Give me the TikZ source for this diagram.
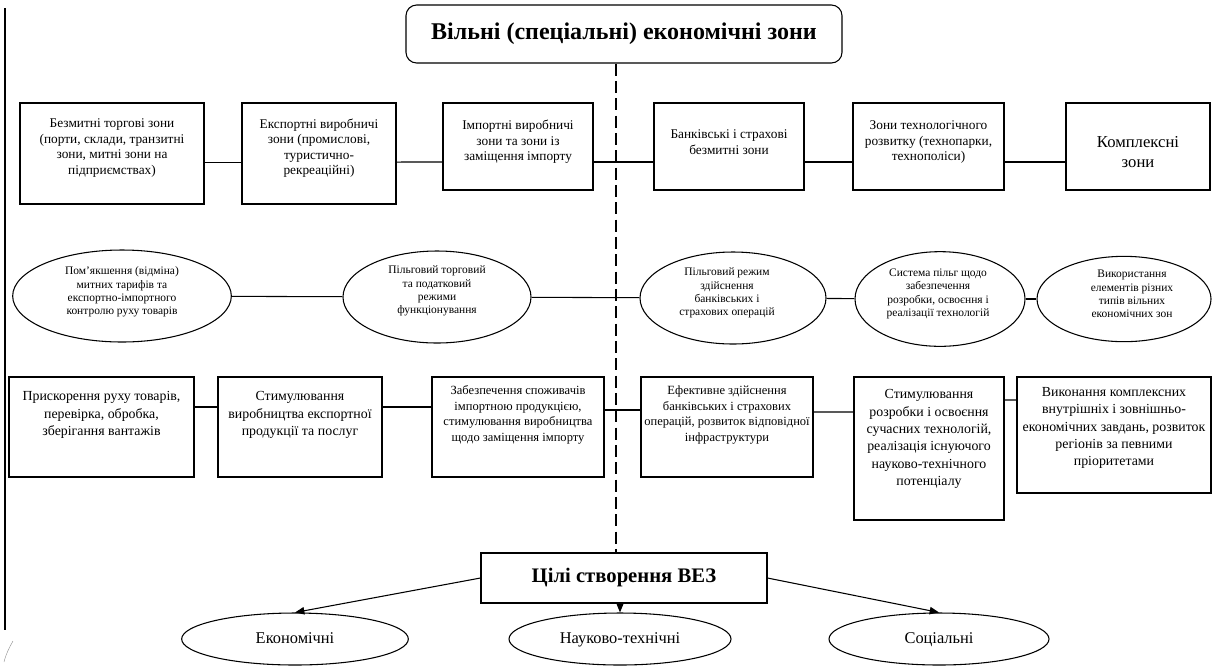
\documentclass[tikz,border=0pt]{standalone}
\usepackage{fontspec}
\setmainfont{Liberation Serif}
\usetikzlibrary{shapes.geometric,arrows.meta}

\tikzset{
  zonebox/.style={draw, line width=0.8pt, inner sep=0pt},
  oval/.style={draw, ellipse, line width=0.8pt, inner sep=0pt},
  txt/.style={align=center, inner sep=0pt},
  rowone/.style={txt, font=\fontsize{10}{11.6}\selectfont},
  ovaltxt/.style={txt, font=\fontsize{8.6}{9.9}\selectfont},
  rowthree/.style={txt, font=\fontsize{10.4}{13}\selectfont},
  rowthreesmall/.style={txt, font=\fontsize{9.4}{11.7}\selectfont},
  goaloval/.style={oval, minimum height=39pt, text height=8.6pt, text depth=2.4pt,
                   font=\fontsize{12.3}{14}\selectfont},
  link/.style={line width=0.8pt},
  axisline/.style={line width=1.1pt, dash pattern=on 9pt off 4pt},
  goalarrow/.style={line width=0.8pt, -{Triangle[length=7pt,width=5.5pt]}},
}

\begin{document}
\begin{tikzpicture}[x=0.75pt,y=-0.75pt]
\useasboundingbox (0,0) rectangle (1212,665);

% left margin rule
\draw[line width=0.9pt] (5,8) -- (5,630);
\draw[line width=0.3pt, black!45] (4,662) .. controls (6,654) and (9,648) .. (13,641);

% title
\node[draw, rounded corners=8pt, line width=0.8pt, minimum width=327pt, minimum height=43.5pt,
      font=\bfseries\fontsize{18}{21}\selectfont] (title) at (624,34) {Вільні (спеціальні) економічні зони};

% first row: types of zones
\node[zonebox, minimum width=138pt,   minimum height=75.75pt] (b1) at (112,153.5) {};
\node[zonebox, minimum width=115.5pt, minimum height=75.75pt] (b2) at (319,153.5) {};
\node[zonebox, minimum width=112.5pt, minimum height=65.25pt] (b3) at (518,146.5) {};
\node[zonebox, minimum width=112.5pt, minimum height=65.25pt] (b4) at (729,146.5) {};
\node[zonebox, minimum width=113.25pt,minimum height=65.25pt] (b5) at (928.5,146.5) {};
\node[zonebox, minimum width=108pt,   minimum height=65.25pt] (b6) at (1138,146.5) {};

\node[rowone] (t1) at (112,148) {Безмитні торгові зони\\(порти, склади, транзитні\\зони, митні зони на\\підприємствах)};
\node[rowone] (t2) at (319,148) {Експортні виробничі\\зони (промислові,\\туристично-\\рекреаційні)};
\node[rowone] (t3) at (518,142) {Імпортні виробничі\\зони та зони із\\заміщення імпорту};
\node[rowone] (t4) at (729,142) {Банківські і страхові\\безмитні зони};
\node[rowone] (t5) at (928.5,142) {Зони технологічного\\розвитку (технопарки,\\технополіси)};
\node[txt, font=\fontsize{12.5}{15}\selectfont] (t6) at (1138,152) {Комплексні\\зони};

\draw[link] ([yshift=-6.4pt]b1.east) -- ([yshift=-6.4pt]b2.west);
\draw[link] ([yshift=-6.4pt]b2.east) -- ([yshift=-11.6pt]b3.west);
\draw[link] ([yshift=-11.6pt]b3.east) -- ([yshift=-11.6pt]b4.west);
\draw[link] ([yshift=-11.6pt]b4.east) -- ([yshift=-11.6pt]b5.west);
\draw[link] ([yshift=-11.6pt]b5.east) -- ([yshift=-11.6pt]b6.west);

% second row: privileges
\node[oval, minimum width=164pt,  minimum height=69pt] (e1) at (122,296) {};
\node[oval, minimum width=141pt,  minimum height=69pt] (e2) at (437,297) {};
\node[oval, minimum width=139.5pt,minimum height=69pt] (e3) at (733,298) {};
\node[oval, minimum width=127.5pt,minimum height=71pt] (e4) at (940,299) {};
\node[oval, minimum width=130.5pt,minimum height=64pt] (e5) at (1124,299) {};

\node[ovaltxt] (u1) at (122,292) {Пом’якшення (відміна)\\митних тарифів та\\експортно-імпортного\\контролю руху товарів};
\node[ovaltxt] (u2) at (437,291) {Пільговий торговий\\та податковий\\режими\\функціонування};
\node[ovaltxt] (u3) at (727,293) {Пільговий режим\\здійснення\\банківських і\\страхових операцій};
\node[ovaltxt] (u4) at (938,294) {Система пільг щодо\\забезпечення\\розробки, освоєння і\\реалізації технологій};
\node[ovaltxt] (u5) at (1132,294) {Використання\\елементів різних\\типів вільних\\економічних зон};

\draw[link] (e1) -- (e2);
\draw[link] (e2) -- (e3);
\draw[link] (e3) -- (e4);
\draw[link] (e4) -- (e5);

% third row: purposes
\node[zonebox, minimum width=138.75pt, minimum height=75pt]    (b7)  at (101.5,427) {};
\node[zonebox, minimum width=123pt,    minimum height=75pt]    (b8)  at (300,427) {};
\node[zonebox, minimum width=129pt,    minimum height=75pt]    (b9)  at (518,427) {};
\node[zonebox, minimum width=129pt,    minimum height=75pt]    (b10) at (727,427) {};
\node[zonebox, minimum width=112.5pt,  minimum height=107.25pt] (b11) at (929,448.5) {};
\node[zonebox, minimum width=145.5pt,  minimum height=87pt]    (b12) at (1114,435) {};

\node[rowthree] (t7) at (101.5,415) {Прискорення руху товарів,\\перевірка, обробка,\\зберігання вантажів};
\node[rowthree] (t8) at (300,415) {Стимулювання\\виробництва експортної\\продукції та послуг};
\node[rowthreesmall] (t9) at (518,415) {Забезпечення споживачів\\імпортною продукцією,\\стимулювання виробництва\\щодо заміщення імпорту};
\node[rowthreesmall] (t10) at (727,415) {Ефективне здійснення\\банківських і страхових\\операцій, розвиток відповідної\\інфраструктури};
\node[rowthree] (t11) at (929,439) {Стимулювання\\розробки і освоєння\\сучасних технологій,\\реалізація існуючого\\науково-технічного\\потенціалу};
\node[rowthree] (t12) at (1114,428) {Виконання комплексних\\внутрішніх і зовнішньо-\\економічних завдань, розвиток\\регіонів за певними\\пріоритетами};

\draw[link] ([yshift=15pt]b7.east)    -- ([yshift=15pt]b8.west);
\draw[link] ([yshift=15pt]b8.east)    -- ([yshift=15pt]b9.west);
\draw[link] ([yshift=12.75pt]b9.east) -- ([yshift=12.75pt]b10.west);
\draw[link] ([yshift=11.25pt]b10.east) -- ([yshift=27.4pt]b11.west);
\draw[link] ([yshift=36.4pt]b11.east) -- ([yshift=26.25pt]b12.west);

% goals
\node[zonebox, minimum width=214.5pt, minimum height=37.5pt,
      font=\bfseries\fontsize{15.5}{18}\selectfont] (goal) at (624,578) {Цілі створення ВЕЗ};

\draw[axisline] ([xshift=-6pt]title.south) -- ([xshift=-6pt]goal.north);

\node[goaloval, minimum width=170pt]   (econ) at (295,639) {Економічні};
\node[goaloval, minimum width=166.5pt] (sci)  at (620,639) {Науково-технічні};
\node[goaloval, minimum width=165pt]   (soc)  at (939,639) {Соціальні};

\draw[goalarrow] (goal.west) -- (econ.north);
\draw[goalarrow] (goal.south -| sci.north) -- (sci.north);
\draw[goalarrow] (goal.east) -- (soc.north);
\end{tikzpicture}
\end{document}
